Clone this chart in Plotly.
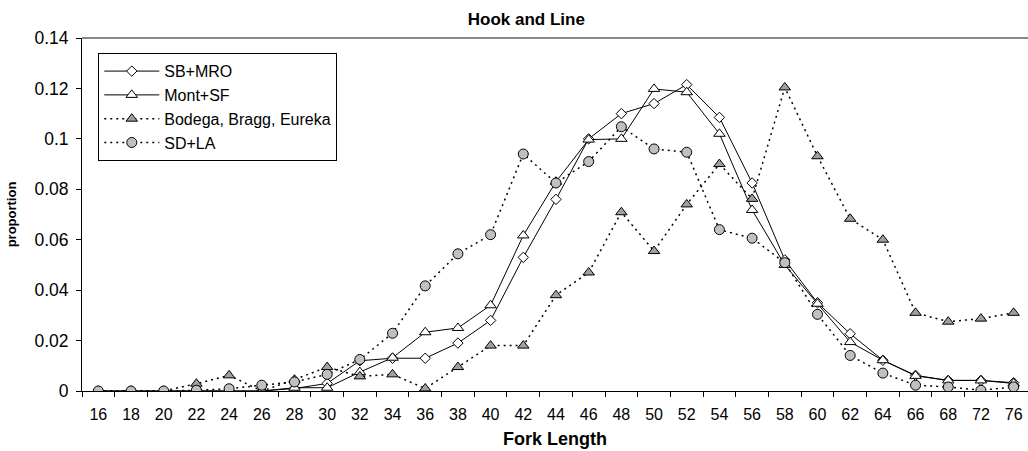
import plotly.graph_objects as go

# Fork length classes (cm) along the category axis
lengths = [16, 18, 20, 22, 24, 26, 28, 30, 32, 34, 36, 38, 40, 42, 44, 46, 48,
           50, 52, 54, 56, 58, 60, 62, 64, 66, 68, 72, 76]

# Proportion of hook-and-line catch by length class, per port group
sb_mro = [0, 0, 0, 0, 0, 0, 0.001, 0.003, 0.012, 0.013, 0.013, 0.019, 0.028,
          0.053, 0.076, 0.100, 0.110, 0.114, 0.1215, 0.1085, 0.0825, 0.052,
          0.035, 0.0227, 0.0122, 0.0062, 0.0042, 0.0042, 0.0033]
mont_sf = [0, 0, 0, 0, 0, 0, 0.0013, 0.0013, 0.0075, 0.0132, 0.0233, 0.025,
           0.034, 0.0617, 0.083, 0.0997, 0.100, 0.1198, 0.1185, 0.102, 0.0718,
           0.050, 0.0346, 0.0194, 0.0122, 0.006, 0.0042, 0.0042, 0.003]
bodega = [0, 0, 0, 0.0029, 0.0062, 0, 0.0045, 0.0095, 0.0058, 0.0066, 0.001,
          0.0095, 0.018, 0.018, 0.038, 0.047, 0.0709, 0.0555, 0.074, 0.090,
          0.0762, 0.1204, 0.0931, 0.0683, 0.060, 0.031, 0.0275, 0.0287, 0.031]
sd_la = [0, 0, 0, 0.0003, 0.0009, 0.0023, 0.0036, 0.0066, 0.0125, 0.0229,
         0.0417, 0.0544, 0.062, 0.094, 0.0825, 0.091, 0.1048, 0.096, 0.0947,
         0.064, 0.0606, 0.0509, 0.0304, 0.0141, 0.0071, 0.0023, 0.0016, 0.0003,
         0.0016]

FONT = "Arial, 'Liberation Sans', sans-serif"
x_cats = [str(v) for v in lengths]

fig = go.Figure()

fig.add_trace(go.Scatter(
    x=x_cats, y=sb_mro, name="SB+MRO", mode="lines+markers",
    line=dict(color="black", width=1),
    marker=dict(symbol="diamond", size=8, color="white",
                line=dict(color="black", width=1)),
))
fig.add_trace(go.Scatter(
    x=x_cats, y=mont_sf, name="Mont+SF", mode="lines+markers",
    line=dict(color="black", width=1),
    marker=dict(symbol="triangle-up", size=10, color="white",
                line=dict(color="black", width=1)),
))
fig.add_trace(go.Scatter(
    x=x_cats, y=bodega, name="Bodega, Bragg, Eureka", mode="lines+markers",
    line=dict(color="black", width=1.5, dash="2px,4px"),
    marker=dict(symbol="triangle-up", size=10, color="#a0a0a0",
                line=dict(color="black", width=1)),
))
fig.add_trace(go.Scatter(
    x=x_cats, y=sd_la, name="SD+LA", mode="lines+markers",
    line=dict(color="black", width=1.5, dash="2px,4px"),
    marker=dict(symbol="circle", size=10, color="#c0c0c0",
                line=dict(color="black", width=1)),
))

fig.update_layout(
    width=1028, height=451,
    margin=dict(l=82, r=0, t=38, b=60),
    paper_bgcolor="white", plot_bgcolor="white",
    font=dict(family=FONT, color="black", size=16),
    title=dict(text="<b>Hook and Line</b>", x=0.512, xref="container",
               y=0.958, yref="container", xanchor="center", yanchor="middle",
               font=dict(family=FONT, size=17, color="black")),
    showlegend=True,
    legend=dict(x=0.0172, y=0.957, xanchor="left", yanchor="top",
                bgcolor="white", bordercolor="black", borderwidth=1,
                itemwidth=55, font=dict(family=FONT, size=16),
                tracegroupgap=0),
)

fig.update_xaxes(
    type="category", range=[-0.5, 28.44],
    showline=True, linecolor="black", linewidth=1,
    ticks="outside", tickson="boundaries", ticklen=5, tickcolor="black",
    ticklabelstandoff=9,
    showgrid=False, zeroline=False,
    tickfont=dict(family=FONT, size=16),
    title=dict(text="<b>Fork Length</b>", font=dict(family=FONT, size=18),
               standoff=10),
)
fig.update_yaxes(
    range=[0, 0.14], dtick=0.02, tick0=0,
    showline=True, linecolor="black", linewidth=1,
    ticks="outside", ticklen=5, tickcolor="black",
    ticklabelstandoff=4,
    showgrid=False, zeroline=False,
    tickfont=dict(family=FONT, size=17.5),
    title=dict(text="<b>proportion</b>", font=dict(family=FONT, size=13),
               standoff=14),
)

# grey frame line along the top of the plot area
fig.add_shape(type="line", xref="paper", yref="paper", x0=0, x1=1, y0=1, y1=1,
              line=dict(color="#888888", width=2), layer="below")

fig.write_html("out.html")
